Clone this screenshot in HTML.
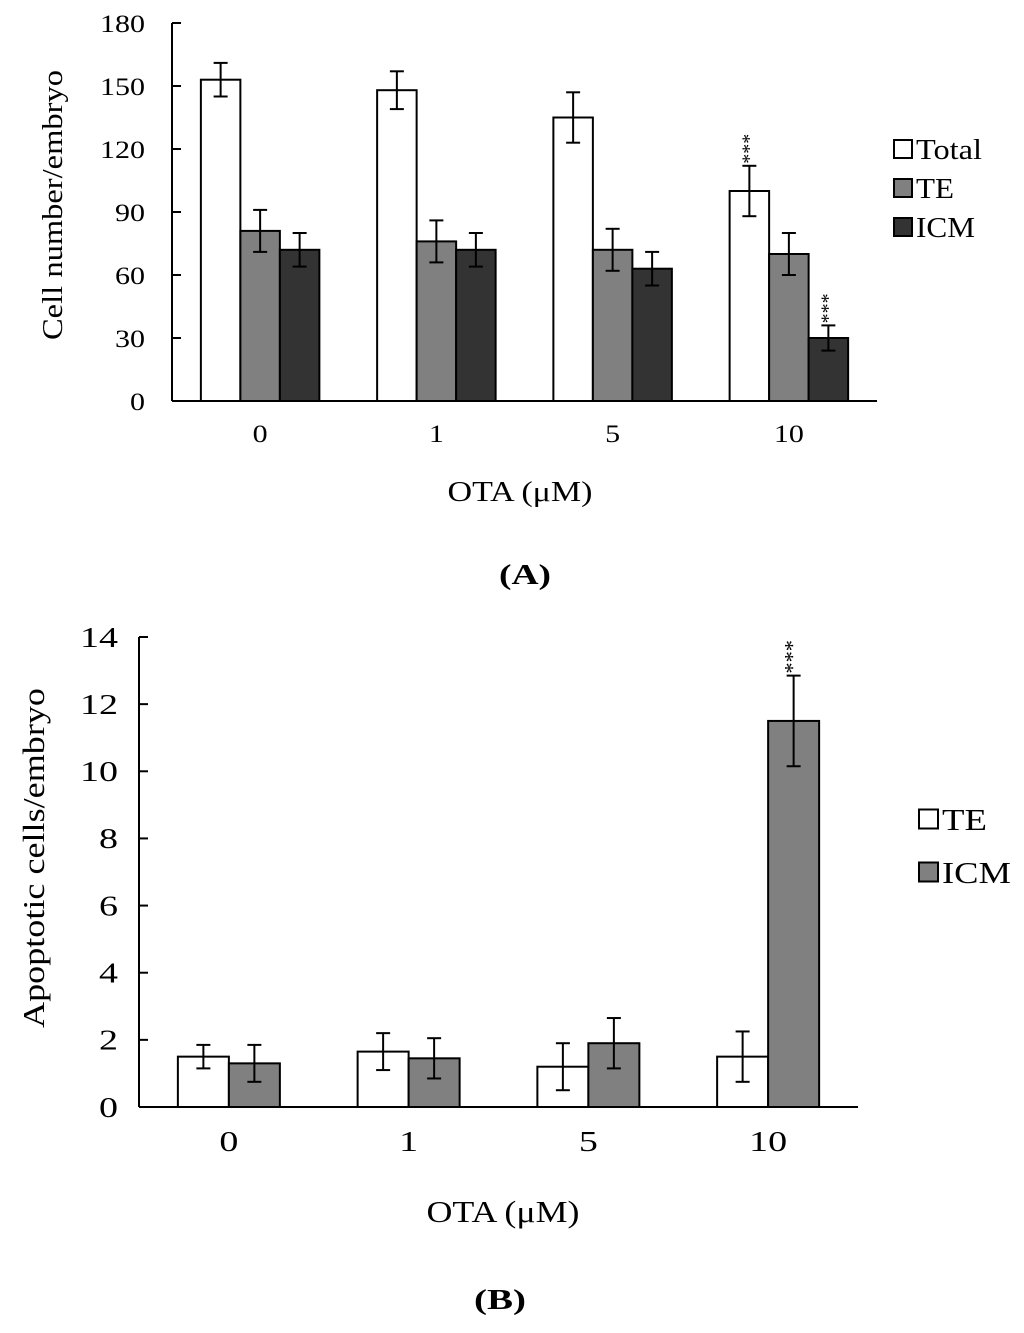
<!DOCTYPE html>
<html><head><meta charset="utf-8"><style>
body{margin:0;background:#fff}
svg text{font-family:"Liberation Serif",serif;fill:#000}
</style></head><body>
<svg width="1024" height="1328" xmlns="http://www.w3.org/2000/svg" id="svg">
<g id="gA"></g>
<g id="gB"></g>
<text x="525" y="584" font-size="29" font-weight="bold" text-anchor="middle" textLength="52" lengthAdjust="spacingAndGlyphs">(A)</text>
<text x="500" y="1309" font-size="29" font-weight="bold" text-anchor="middle" textLength="52" lengthAdjust="spacingAndGlyphs">(B)</text>
</svg>
<script>
const catsA=["0","1","5","10"];
const totalA=[153,148,135,100];
const totalErrA=[8,9,12,12];
const teA=[81,76,72,70];
const teErrA=[10,10,10,10];
const icmA=[72,72,63,30];
const icmErrA=[8,8,8,6];
const ticksA=[0,30,60,90,120,150,180];
const catsB=["0","1","5","10"];
const teB=[1.5,1.65,1.2,1.5];
const teErrB=[0.35,0.55,0.7,0.75];
const icmB=[1.3,1.45,1.9,11.5];
const icmErrB=[0.55,0.6,0.75,1.35];
const ticksB=[0,2,4,6,8,10,12,14];
const NS="http://www.w3.org/2000/svg";
function mk(p,t,a){const e=document.createElementNS(NS,t);for(const k in a)e.setAttribute(k,a[k]);p.appendChild(e);return e;}
function chart(g,o){
  const y=v=>o.y0-(v-o.ymin)/(o.ymax-o.ymin)*(o.y0-o.y1);
  const gx=i=>o.x0+(i+0.5)*(o.x1-o.x0)/o.cats.length;
  let ax=mk(g,'line',{x1:o.x0,y1:o.y1,x2:o.x0,y2:o.y0,stroke:'#000','stroke-width':2});
  
  let bx=mk(g,'line',{x1:o.x0,y1:o.y0,x2:o.x1,y2:o.y0,stroke:'#000','stroke-width':2});
  
  o.ticks.forEach(t=>{
    mk(g,'line',{x1:o.x0,y1:y(t),x2:o.x0+9,y2:y(t),stroke:'#000','stroke-width':2});
    let tx=mk(g,'text',{x:o.x0-o.tgap,y:y(t)+o.fs*0.35,'font-size':o.fs,'text-anchor':'end',textLength:String(t).length*o.dw,lengthAdjust:'spacingAndGlyphs'});tx.textContent=t;
    
    
  });
  o.cats.forEach((c,i)=>{
    let tx=mk(g,'text',{x:gx(i),y:o.y0+o.fs+16,'font-size':o.fs,'text-anchor':'middle',textLength:c.length*o.dw,lengthAdjust:'spacingAndGlyphs'});tx.textContent=c;
    
    
    o.series.forEach((s,j)=>{
      const bxl=gx(i)-o.bw*o.series.length/2+j*o.bw, v=s.v[i], e=s.e[i];
      let r=mk(g,'rect',{x:bxl,y:y(v),width:o.bw,height:o.y0-y(v),fill:s.fill,stroke:'#000','stroke-width':2});
      
      
      const cx=bxl+o.bw/2;
      mk(g,'line',{x1:cx,y1:y(v+e),x2:cx,y2:y(v-e),stroke:'#000','stroke-width':2});
      mk(g,'line',{x1:cx-7,y1:y(v+e),x2:cx+7,y2:y(v+e),stroke:'#000','stroke-width':2});
      mk(g,'line',{x1:cx-7,y1:y(v-e),x2:cx+7,y2:y(v-e),stroke:'#000','stroke-width':2});
      if(s.star&&s.star[i]){
        let st=mk(g,'text',{x:cx,y:y(v+e)-8,'font-size':o.fs*0.8,'text-anchor':'start',transform:`rotate(-90 ${cx+6} ${y(v+e)-8})`});
        st.textContent='***';
        
        
      }
    });
  });
  o.series.forEach((s,j)=>{
    const ly=o.ly+j*o.lgap;
    let r=mk(g,'rect',{x:o.lx,y:ly-o.lb/2,width:o.lb,height:o.lb,fill:s.fill,stroke:'#000','stroke-width':2});
    
    
    let t=mk(g,'text',{x:o.lx+o.lb+4,y:ly+o.lfs*0.35,'font-size':o.lfs,textLength:s.lw,lengthAdjust:'spacingAndGlyphs'});t.textContent=s.label;
    
    
  });
  let xt=mk(g,'text',{x:o.xtx,y:o.xty,'font-size':o.xfs,'text-anchor':'middle',textLength:o.xtw,lengthAdjust:'spacingAndGlyphs'});xt.textContent='OTA (μM)';
  
  
  let yt=mk(g,'text',{x:0,y:0,'font-size':o.yfs,'text-anchor':'middle',textLength:o.ytw,lengthAdjust:'spacingAndGlyphs',transform:`translate(${o.ytx},${o.yty}) rotate(-90)`});yt.textContent=o.ytitle;
  
  
}
chart(document.getElementById('gA'),{x0:172,x1:877,y0:401,y1:23,ymin:0,ymax:180,ticks:ticksA,cats:catsA,bw:39.5,fs:25,dw:15,tgap:27,
  series:[{name:'total',label:'Total',lw:66,v:totalA,e:totalErrA,fill:'#fff',star:[0,0,0,1]},
          {name:'te',label:'TE',lw:38,v:teA,e:teErrA,fill:'#808080'},
          {name:'icm',label:'ICM',lw:59,v:icmA,e:icmErrA,fill:'#333',star:[0,0,0,1]}],
  lx:894,ly:149,lgap:39,lb:18,lfs:28,xtx:520,xty:501,xfs:28,xtw:145,ytx:62,yty:205,yfs:28,ytw:270,ytitle:'Cell number/embryo'});
chart(document.getElementById('gB'),{x0:139,x1:858,y0:1107,y1:637,ymin:0,ymax:14,ticks:ticksB,cats:catsB,bw:51,fs:28,dw:19,tgap:21,
  series:[{name:'te',label:'TE',lw:45,v:teB,e:teErrB,fill:'#fff'},
          {name:'icm',label:'ICM',lw:69,v:icmB,e:icmErrB,fill:'#808080',star:[0,0,0,1]}],
  lx:919,ly:819,lgap:53,lb:19,lfs:31,xtx:503,xty:1222,xfs:31,xtw:153,ytx:44,yty:858,yfs:31,ytw:340,ytitle:'Apoptotic cells/embryo'});
</script>
</body></html>
